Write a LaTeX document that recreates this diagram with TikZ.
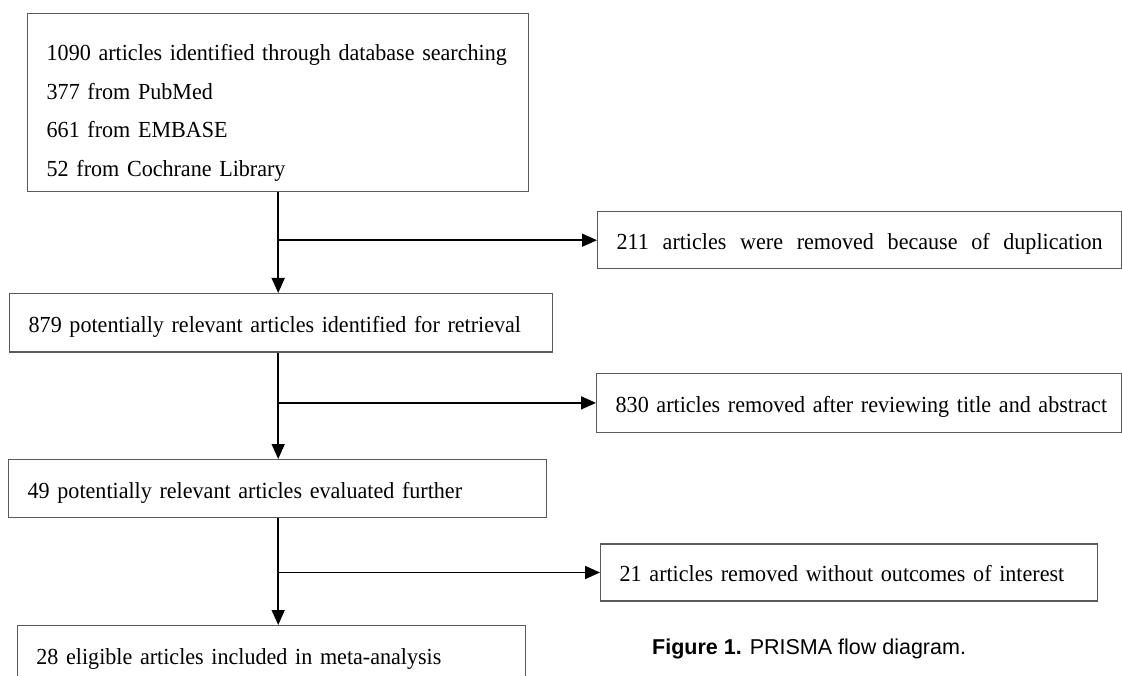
\documentclass[tikz,border=0pt]{standalone}
\usepackage{fontspec}
\setmainfont{Liberation Serif}[FakeStretch=0.96]
\setsansfont{Liberation Sans}
\usetikzlibrary{arrows.meta}

\tikzset{
  stage/.style={draw=black!65, line width=1.4pt, anchor=north west, inner xsep=19pt, inner ysep=0pt,
    align=left, font=\fontsize{23}{38.8}\selectfont},
  single/.style={stage, text height=20pt, text depth=1.2pt,
    execute at begin node=\hbox\bgroup, execute at end node=\egroup},
  flow/.style={-{Triangle[length=15pt,width=13pt]}, line width=1.6pt},
}

\begin{document}
\begin{tikzpicture}[x=1pt,y=-1pt]
        \useasboundingbox (0,0) rectangle (1122,676);
        \clip (0,0) rectangle (1122,676);

        \node [stage, text width=463pt, text height=15.7pt, text depth=100.3pt, minimum height=178pt] (search) at (27,13)
          {1090 articles identified through database searching\\377 from PubMed\\661 from EMBASE\\52 from Cochrane Library};
        \node [single, text width=505pt, minimum height=58.5pt] (screen) at (9,293)
          {879 potentially relevant articles identified for retrieval};
        \node [single, text width=500pt, minimum height=58pt] (full) at (8,459)
          {49 potentially relevant articles evaluated further};
        \node [single, text width=470pt, minimum height=58pt] (incl) at (16.7,625)
          {28 eligible articles included in meta-analysis};

        \node [single, text width=486pt, minimum height=57pt] (dup) at (597,211)
          {\makebox[486pt]{211\hfill articles\hfill were\hfill removed\hfill because\hfill of\hfill duplication}};
        \node [single, text width=487pt, minimum height=59pt] (excl) at (596,372.7)
          {830 articles removed after reviewing title and abstract};
        \node [single, text width=459pt, minimum height=57pt] (noout) at (600,543.3)
          {21 articles removed without outcomes of interest};

        \node [anchor=base west, inner sep=0pt, font=\sffamily\fontsize{21.5}{21.5}\selectfont] (caption) at (652,654)
          {\textbf{Figure 1.} PRISMA flow diagram.};

        \coordinate (b1) at (search.south |- dup.west);
        \coordinate (b2) at (search.south |- excl.west);
        \coordinate (b3) at (search.south |- noout.west);

        \draw [flow] (search.south) -- (search.south |- screen.north);
        \draw [flow] (search.south |- screen.south) -- (search.south |- full.north);
        \draw [flow] (search.south |- full.south) -- (search.south |- incl.north);
        \draw [flow] (b1) -- (dup.west);
        \draw [flow] (b2) -- (excl.west);
        \draw [flow] (b3) -- (noout.west);
      \end{tikzpicture}
\end{document}
